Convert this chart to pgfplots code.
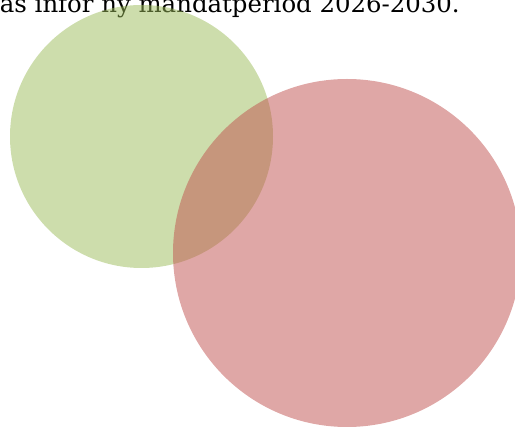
\documentclass[border=0pt]{standalone}
\usepackage{fontspec}
\setmainfont{DejaVu Serif}
\usepackage{pgfplots}
\pgfplotsset{compat=1.18}
\definecolor{cgreen}{HTML}{9BBB59}
\definecolor{cred}{HTML}{C0504D}
\begin{document}
\begin{tikzpicture}
\begin{axis}[width=515pt,height=428pt,scale only axis,
  xmin=0,xmax=515,ymin=0,ymax=428,hide axis,clip=false]
\addplot[only marks, mark=*, mark size=131.5pt,
  mark options={draw opacity=0, line width=0pt, fill=cgreen, fill opacity=0.5}] coordinates {(141.5,291.5)};
\addplot[only marks, mark=*, mark size=174pt,
  mark options={draw opacity=0, line width=0pt, fill=cred, fill opacity=0.5}] coordinates {(347,175)};
\node[anchor=base east, font=\fontsize{24.4}{28}\selectfont, inner sep=0pt]
  at (axis cs:460,415.5) {as inför ny mandatperiod 2026-2030.};
\end{axis}
\pgfresetboundingbox
\useasboundingbox (0,0) rectangle (515pt,428pt);
\end{tikzpicture}
\end{document}
